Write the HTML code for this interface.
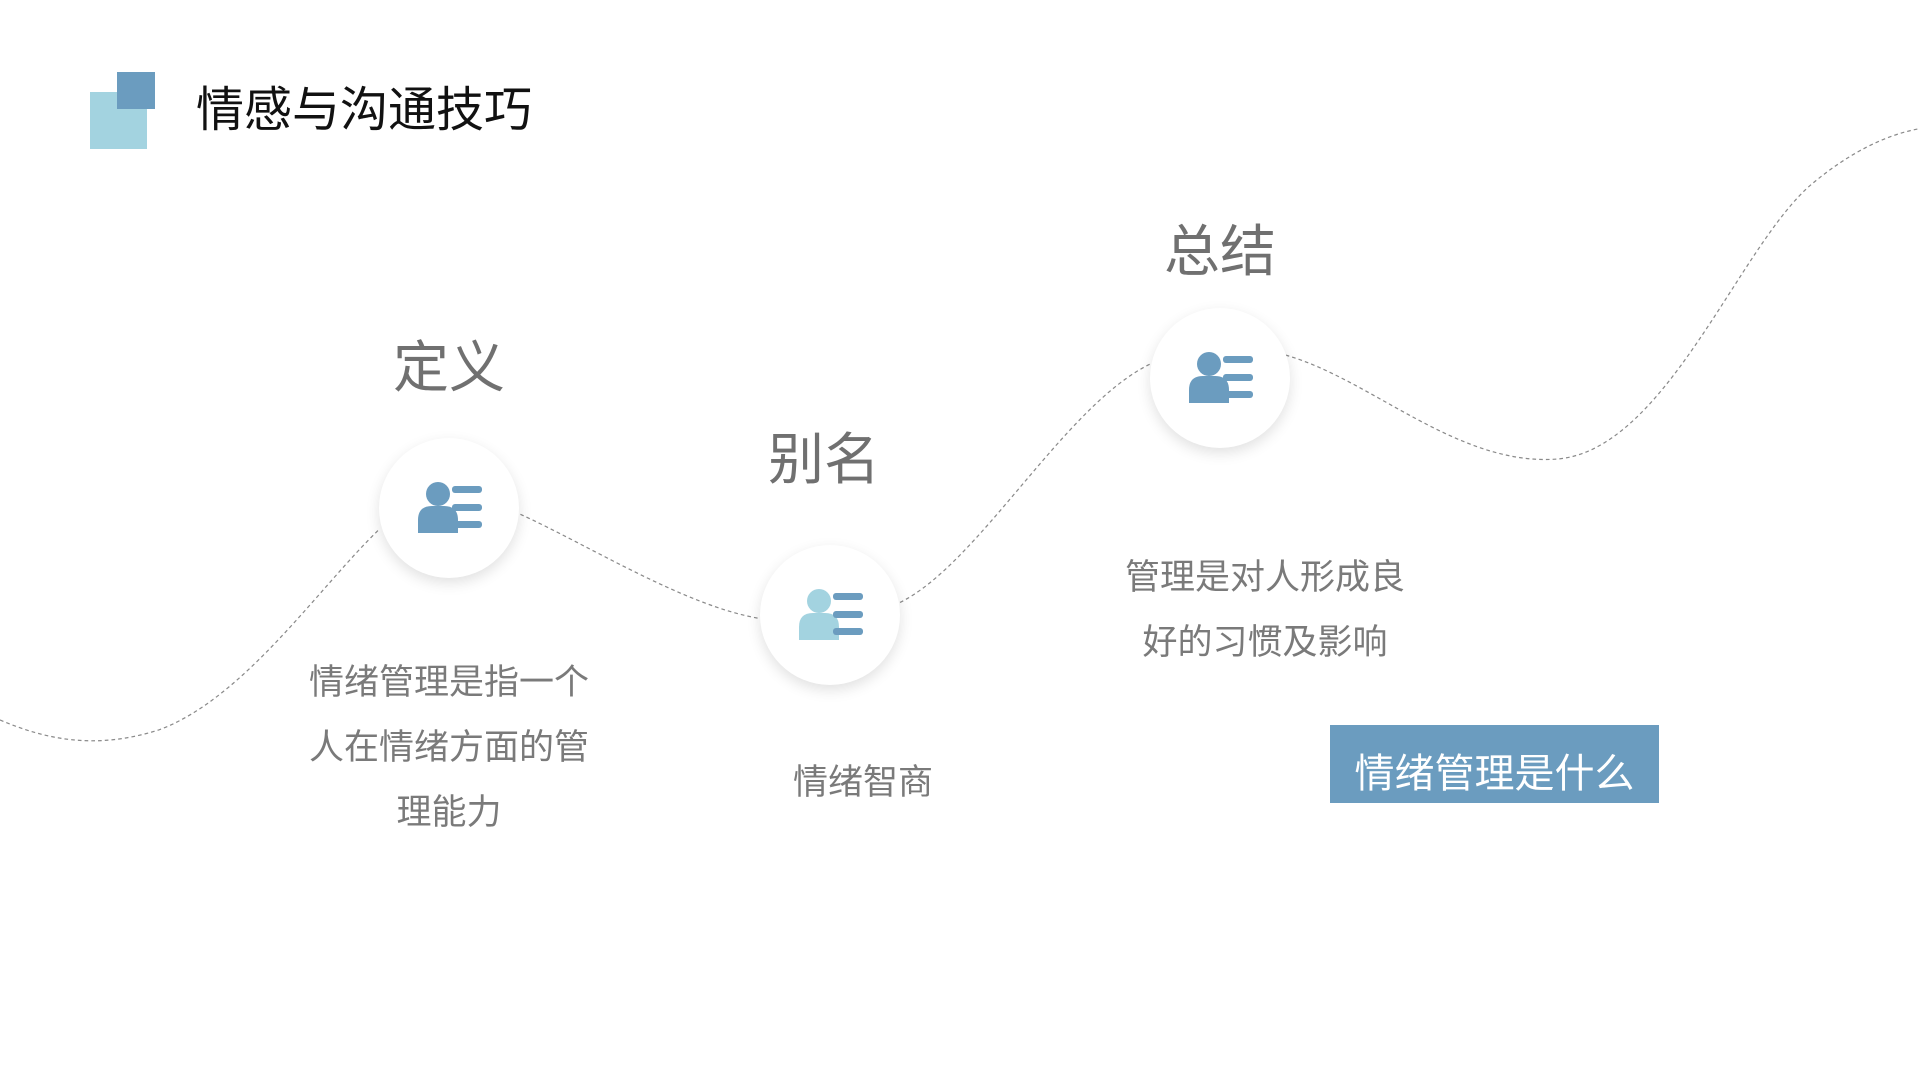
<!DOCTYPE html>
<html><head><meta charset="utf-8"><style>
*{margin:0;padding:0}
body{width:1920px;height:1080px;background:#fff;position:relative;overflow:hidden;font-family:"Liberation Sans","Noto Sans CJK SC",sans-serif}
.a{position:absolute}
.c{position:absolute;width:140px;height:140px;border-radius:50%;background:#fff;box-shadow:0 5px 14px rgba(0,0,0,0.12)}
.t{position:absolute;transform:translateX(-50%);white-space:nowrap;color:#6f6f6f}
.h{font-size:56px;color:#707070}
.p{font-size:35px;line-height:65px;text-align:center;color:#7a7a7a}
</style></head><body>
<svg class="a" style="left:0;top:0" width="1920" height="1080" viewBox="0 0 1568 882">
<g fill="none" stroke="#8a8a8a" stroke-width="1" stroke-dasharray="3,2.5">
<path d="M0,588 C40,605 80,612 130,596 C200,570 260,480 310,432"/>
<path d="M425,420 C480,445 560,495 620,505"/>
<path d="M735,492 C800,460 870,330 940,297"/>
<path d="M1050,290 C1120,310 1190,380 1270,375 C1360,370 1420,200 1480,150 C1510,125 1540,110 1568,105"/>
</g></svg>
<div class="a" style="left:90px;top:92px;width:57px;height:57px;background:#a3d3e0"></div>
<div class="a" style="left:117px;top:72px;width:38px;height:37px;background:#6b9cbf"></div>
<div class="a" style="left:196px;top:70px;font-size:48px;color:#111;white-space:nowrap">情感与沟通技巧</div>

<div class="c" style="left:379px;top:438px"></div>
<div class="c" style="left:760px;top:545px"></div>
<div class="c" style="left:1150px;top:308px"></div>
<svg class="a" style="left:0;top:0" width="1920" height="1080">
<defs>
<g id="ic">
<circle cx="-11" cy="-14" r="12"/>
<path d="M-31,25 L-31,12 Q-31,-2 -17,-2 L-5,-2 Q9,-2 9,12 L9,25 Z"/>
</g>
<g id="ln">
<rect x="3" y="-22" width="30" height="7" rx="3"/>
<rect x="3" y="-4" width="30" height="7" rx="3"/>
<rect x="3" y="13" width="30" height="7" rx="3"/>
</g>
</defs>
<g fill="#6b9cbf"><use href="#ic" x="449" y="508"/><use href="#ln" x="449" y="508"/></g>
<g fill="#a3d3e0"><use href="#ic" x="830" y="615"/></g><g fill="#6b9cbf"><use href="#ln" x="830" y="615"/></g>
<g fill="#6b9cbf"><use href="#ic" x="1220" y="378"/><use href="#ln" x="1220" y="378"/></g>
</svg>

<div class="t h" style="left:449px;top:323px">定义</div>
<div class="t h" style="left:824px;top:415px">别名</div>
<div class="t h" style="left:1220px;top:207px">总结</div>

<div class="t p" style="left:449px;top:650px">情绪管理是指一个<br>人在情绪方面的管<br>理能力</div>
<div class="t p" style="left:863px;top:750px">情绪智商</div>
<div class="t p" style="left:1265px;top:545px">管理是对人形成良<br>好的习惯及影响</div>

<div class="a" style="left:1330px;top:725px;width:329px;height:78px;background:#6b9cbf;color:#fff;font-size:40px;line-height:98px;height:78px;overflow:hidden;text-align:center;white-space:nowrap">情绪管理是什么</div>
</body></html>
